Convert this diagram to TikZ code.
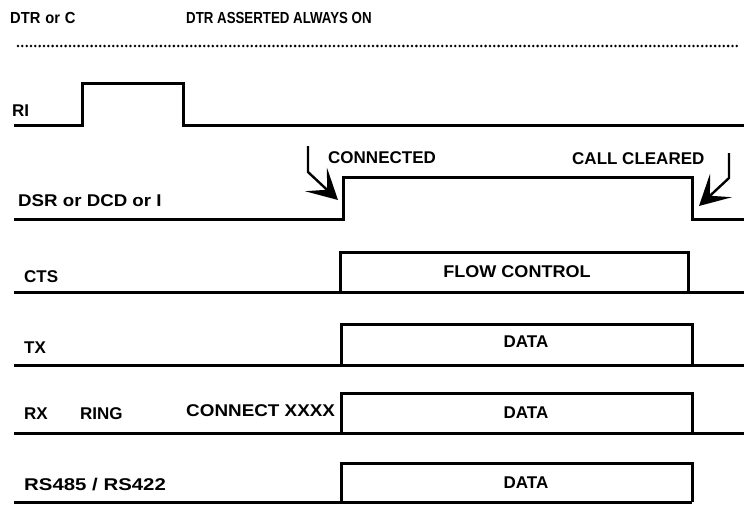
\documentclass[tikz,border=0pt]{standalone}
\usepackage{fontspec}
\setmainfont{Liberation Sans}
\usepackage{graphicx}
\usetikzlibrary{arrows.meta}
\tikzset{
  sig/.style={line width=3pt, line join=miter},
  lbl/.style={font=\bfseries\fontsize{17}{17}\selectfont, inner sep=0pt, anchor=base west},
  lblc/.style={font=\bfseries\fontsize{17}{17}\selectfont, inner sep=0pt, anchor=base},
  toplbl/.style={font=\bfseries\fontsize{16}{16}\selectfont, inner sep=0pt, anchor=base west},
  evarrow/.style={line width=2.4pt, -{Stealth[length=30pt,width=32pt,inset=15pt]}},
}
\begin{document}
\begin{tikzpicture}[x=1pt,y=-1pt]
\useasboundingbox (0,0) rectangle (744,504);
% header
\node[toplbl] (dtr) at (10,23) {\scalebox{0.92}[1]{DTR\,\,or\,\,C}};
\node[toplbl] (title) at (186,23) {\scalebox{0.83}[1]{DTR ASSERTED ALWAYS ON}};
\draw[line width=2.8pt, line cap=round, dash pattern=on 0pt off 4.33pt] (18,46) -- (738,46);
% RI
\node[lbl] (ri) at (12,116) {RI};
\draw[sig] (14,125) -- (82,125) -- (82,83) -- (183,83) -- (183,125) -- (744,125);
% DSR
\node[lbl] (dsr) at (18,206) {\scalebox{1.1}[1]{DSR or DCD or I}};
\draw[sig] (14,219) -- (343,219) -- (343,177) -- (692,177) -- (692,219) -- (744,219);
\node[lbl] (conn) at (328,163) {CONNECTED};
\node[lbl] (clr) at (572,164) {CALL CLEARED};
\coordinate (ca) at (308,146);
\coordinate (cb) at (308,172);
\coordinate (cc) at (338,200);
\draw[evarrow] (ca) -- (cb) -- (cc);
\coordinate (da) at (729,153);
\coordinate (db) at (729,178);
\coordinate (dc) at (699,206);
\draw[evarrow] (da) -- (db) -- (dc);
% CTS
\node[lbl] (cts) at (24,282) {CTS};
\draw[sig] (14,292) -- (744,292);
\draw[sig] (340,292) -- (340,252) -- (688,252) -- (688,292);
\node[lblc] (flow) at (517,277) {\scalebox{1.06}[1]{FLOW CONTROL}};
% TX
\node[lbl] (tx) at (24,353) {TX};
\draw[sig] (14,365) -- (744,365);
\draw[sig] (341,365) -- (341,324) -- (692,324) -- (692,365);
\node[lblc] (txd) at (526,347) {DATA};
% RX
\node[lbl] (rx) at (24,419) {RX};
\node[lbl] (ring) at (80,419) {RING};
\node[lbl] (cx) at (186,416) {\scalebox{1.11}[1]{CONNECT XXXX}};
\draw[sig] (14,433) -- (744,433);
\draw[sig] (341,433) -- (341,393) -- (692,393) -- (692,433);
\node[lblc] (rxd) at (526,418) {DATA};
% RS485
\node[lbl] (rs) at (24,490) {\scalebox{1.2}[1]{RS485 / RS422}};
\draw[sig] (14,502) -- (692,502);
\draw[sig] (341,502) -- (341,463) -- (692,463) -- (692,502);
\node[lblc] (rsd) at (526,488) {DATA};
\end{tikzpicture}
\end{document}
